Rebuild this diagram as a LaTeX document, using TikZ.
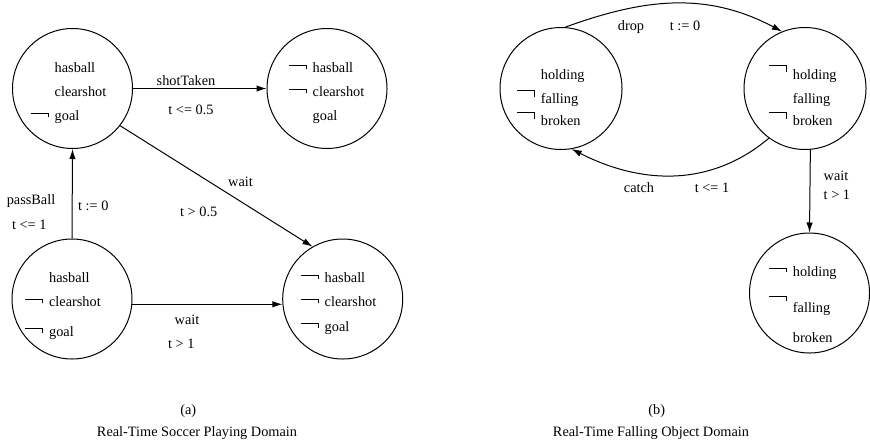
\documentclass[tikz,border=0pt]{standalone}
\usepackage{fontspec}
\setmainfont{Liberation Serif}
\usetikzlibrary{arrows.meta}

% negation hook: raise above baseline, length of tick
\newcommand{\neghook}[2]{\llap{\rule[#1]{8.5pt}{0.5pt}\rule[\dimexpr#1+0.5pt-#2\relax]{0.5pt}{#2}\hspace{3pt}}}
\newcommand{\nega}{\neghook{3.4pt}{2.2pt}}
\newcommand{\negb}{\neghook{6.3pt}{3.5pt}}

\tikzstyle{state} = [circle, draw, line width=0.5pt, minimum size=60pt, inner sep=0pt]
\tikzstyle{fact} = [anchor=base west, inner sep=0pt]
\tikzstyle{lbl} = [anchor=base, inner sep=0pt]
\tikzstyle{arrow} = [line width=0.5pt, ->, >={Latex[length=5pt,width=3.2pt]}]

\begin{document}
\begin{tikzpicture}[x=0.5pt, y=-0.5pt, font=\fontsize{7.15}{12}\selectfont]
\useasboundingbox (0,0) rectangle (870,445);

% (a) soccer playing
\node (s1) [state] at (72.5,88.5) {};
\node (s2) [state] at (327,88.5) {};
\node (s3) [state] at (72,299) {};
\node (s4) [state] at (342.7,299) {};

\node (s1a) [fact] at (54.3,72.3) {hasball};
\node (s1b) [fact] at (54.3,96.5) {clearshot};
\node (s1c) [fact] at (54.3,120.7) {\nega goal};
\node (s2a) [fact] at (312.3,72.3) {\nega hasball};
\node (s2b) [fact] at (312.3,96.5) {\nega clearshot};
\node (s2c) [fact] at (312.3,120.7) {goal};
\node (s3a) [fact] at (48.7,282.3) {hasball};
\node (s3b) [fact] at (48.7,306.7) {\nega clearshot};
\node (s3c) [fact] at (48.7,336) {\nega goal};
\node (s4a) [fact] at (324.3,282.3) {\nega hasball};
\node (s4b) [fact] at (324.3,306.7) {\nega clearshot};
\node (s4c) [fact] at (324.3,331) {\nega goal};

\draw [arrow] (s1.east) -- (s2.west);
\draw [arrow] (s3.north) -- (s1.south);
\draw [arrow] (s1.-38) -- (s4.120);
\draw [arrow] (s3.-5.7) -- (s4.185.7);

\node (shot) [lbl] at (186,85) {shotTaken};
\node (shottime) [lbl] at (191,114.3) {t <= 0.5};
\node (pass) [lbl] at (31,204) {passBall};
\node (passtime) [lbl] at (29.3,229) {t <= 1};
\node (reset) [lbl] at (93.3,210.7) {t := 0};
\node (waitone) [lbl] at (240.5,186) {wait};
\node (waitonetime) [lbl] at (198.7,216.7) {t > 0.5};
\node (waittwo) [lbl] at (187,324) {wait};
\node (waittwotime) [lbl] at (181.3,348.3) {t > 1};

\node (capa) [lbl] at (188.3,414.3) {(a)};
\node (titlea) [lbl] at (197,436.7) {Real-Time Soccer Playing Domain};

% (b) falling object
\node (b1) [state, minimum size=61pt] at (561,88.5) {};
\node (b2) [state, minimum size=61pt] at (805,88.5) {};
\node (b3) [state] at (809.5,293) {};

\node (b1a) [fact] at (540.5,79) {holding};
\node (b1b) [fact] at (540.5,103.3) {\negb falling};
\node (b1c) [fact] at (540.5,125.7) {\negb broken};
\node (b2a) [fact] at (792.5,79) {\negb holding};
\node (b2b) [fact] at (792.5,103.3) {falling};
\node (b2c) [fact] at (792.5,125.7) {\negb broken};
\node (b3a) [fact] at (792.5,276.7) {\neghook{3.7pt}{1.7pt}holding};
\node (b3b) [fact] at (792.5,312.7) {\neghook{8pt}{2.7pt}falling};
\node (b3c) [fact] at (792.5,342.3) {broken};

\draw [arrow] (b1.86) to[out=20, in=152] (b2.112);
\draw [arrow] (b2.234) to[out=220, in=-27] (b1.-80);
\draw [arrow] (b2.-85) -- (b3.north);

\node (drop) [lbl] at (631,30) {drop};
\node (droptime) [lbl] at (685,30) {t := 0};
\node (catch) [lbl] at (639,192.3) {catch};
\node (catchtime) [lbl] at (712,192.3) {t <= 1};
\node (waitthree) [lbl, anchor=base west] at (823.3,180) {wait};
\node (waitthreetime) [lbl, anchor=base west] at (823.3,199) {t > 1};

\node (capb) [lbl] at (656.7,414) {(b)};
\node (titleb) [lbl] at (651,436.7) {Real-Time Falling Object Domain};

\end{tikzpicture}
\end{document}
